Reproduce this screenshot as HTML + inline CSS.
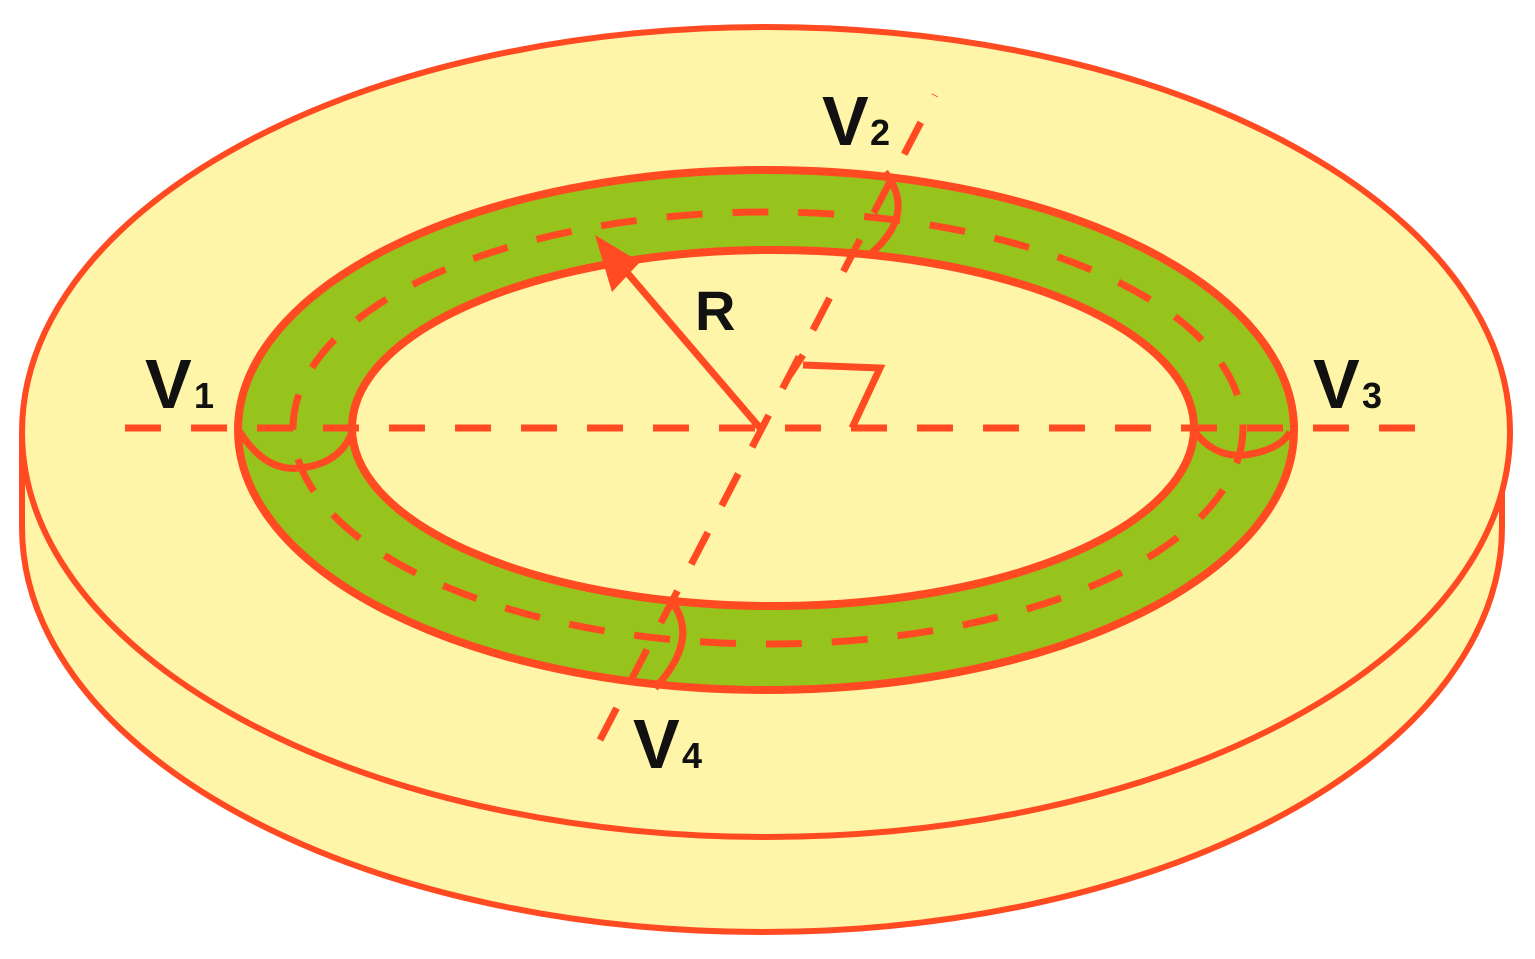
<!DOCTYPE html>
<html><head><meta charset="utf-8"><style>
html,body{margin:0;padding:0;background:#fff;}
svg{display:block;}
text{font-family:"Liberation Sans",sans-serif;font-weight:bold;fill:#111;}
</style></head><body>
<svg width="1535" height="959" viewBox="0 0 1535 959" xmlns="http://www.w3.org/2000/svg">
<g stroke="#FF4A22" stroke-width="6" fill="#FFF5A8">
  <ellipse cx="762" cy="527" rx="740" ry="405"/>
  <rect x="24" y="430" width="1476" height="97" stroke="none"/>
  <line x1="22" y1="430" x2="22" y2="527"/>
  <line x1="1502" y1="430" x2="1502" y2="527"/>
  <ellipse cx="766" cy="432" rx="744" ry="405"/>
</g>
<path fill-rule="evenodd" fill="#96C41C" stroke="#FF4A22" stroke-width="8"
 d="M238,430 a528,260 0 1,0 1056,0 a528,260 0 1,0 -1056,0 Z M352,428 a421,178 0 1,0 842,0 a421,178 0 1,0 -842,0 Z"/>
<g fill="none" stroke="#FF4A22" stroke-width="7">
  <ellipse cx="768" cy="428" rx="475" ry="216" stroke-dasharray="36,30"/>
  <line x1="125" y1="428" x2="1425" y2="428" stroke-dasharray="36,30"/>
  <line x1="600" y1="740" x2="935" y2="95" stroke-dasharray="36,30"/>
  <path d="M240,432 Q265,472 300,468 Q340,464 352,432"/>
  <path d="M1195,432 Q1215,458 1245,455 Q1280,450 1290,432"/>
  <path d="M672,602 Q700,640 655,688"/>
  <path d="M885,172 Q918,215 868,256"/>
  <path d="M790,375 L803,355 M803,365 L880,368 L852,428"/>
  <line x1="760" y1="428" x2="618" y2="262"/>
</g>
<polygon points="595,235 640,262 612,292" fill="#FF4A22"/>
<text x="822" y="145" font-size="70">V</text><text x="870" y="145" font-size="36">2</text>
<text x="145" y="408" font-size="70">V</text><text x="194" y="408" font-size="36">1</text>
<text x="1313" y="408" font-size="70">V</text><text x="1362" y="408" font-size="36">3</text>
<text x="633" y="768" font-size="70">V</text><text x="682" y="768" font-size="36">4</text>
<text x="695" y="330" font-size="56">R</text>
</svg>
</body></html>
